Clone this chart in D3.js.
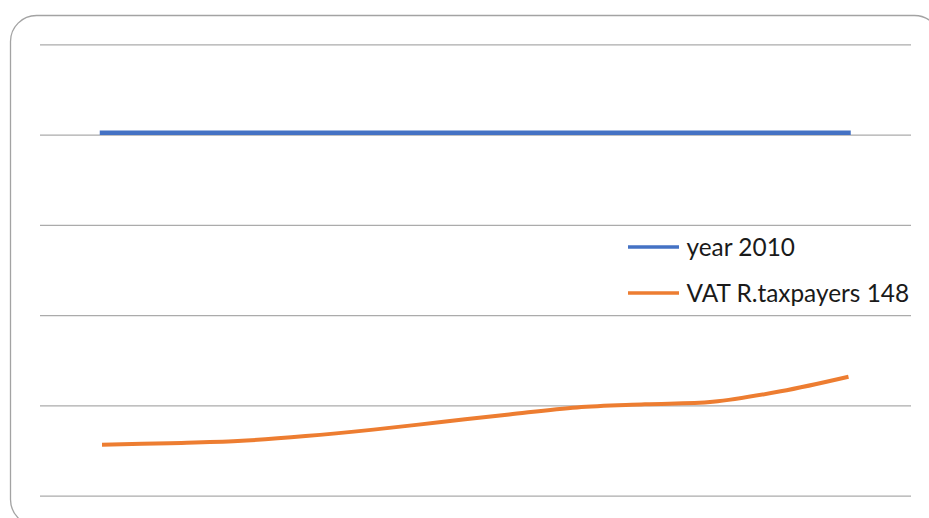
<!DOCTYPE html>
<html>
<head>
<meta charset="utf-8">
<script src="https://cdn.jsdelivr.net/npm/d3@7/dist/d3.min.js"></script>
<style>
  html, body { margin: 0; padding: 0; background: #fff; }
  svg { display: block; }
</style>
</head>
<body>
<svg id="chart" width="929" height="518"></svg>
<script>
// Monthly categories along the horizontal axis (labels are not shown)
const categories = ["Jan", "Feb", "Mar", "Apr", "May", "Jun", "Jul", "Aug", "Sep", "Oct", "Nov", "Dec"];

// Series values
const year2010 = [201, 201, 201, 201, 201, 201, 201, 201, 201, 201, 201, 201];
const vatTaxpayers = [28.2, 29.1, 30.3, 33.0, 36.6, 40.8, 45.0, 48.9, 50.6, 52.0, 57.8, 65.9];

// Value gridline positions
const gridTicks = [0, 50, 100, 150, 200, 250];

// Legend entries
const seriesNames = ["year 2010", "VAT R.taxpayers 148"];
const seriesColors = ["#4472C4", "#ED7D31"];

const svg = d3.select("#chart");

// Rounded chart frame
svg.append("rect")
  .attr("x", 10.5).attr("y", 15.5)
  .attr("width", 930).attr("height", 510)
  .attr("rx", 26).attr("ry", 26)
  .attr("fill", "#fff")
  .attr("stroke", "#a3a3a3")
  .attr("stroke-width", 1.3);

const plot = { left: 40, right: 911, top: 44.3, bottom: 495.7 };

const x = d3.scalePoint().domain(categories).range([102, 848.5]);
const y = d3.scaleLinear().domain([0, 250]).range([plot.bottom, plot.top]);

// Horizontal gridlines
const grid = svg.append("g")
  .attr("transform", `translate(${plot.left},0)`)
  .call(d3.axisLeft(y).tickValues(gridTicks).tickSize(-(plot.right - plot.left)).tickFormat(""));
grid.select(".domain").remove();
grid.selectAll(".tick line").attr("stroke", "#ababab").attr("stroke-width", 1.3);

const line = d3.line()
  .x((d, i) => x(categories[i]))
  .y(d => y(d))
  .curve(d3.curveCatmullRom.alpha(0.5));

svg.append("path")
  .datum(year2010)
  .attr("d", line)
  .attr("fill", "none")
  .attr("stroke", seriesColors[0])
  .attr("stroke-width", 4.5)
  .attr("stroke-linecap", "square");

svg.append("path")
  .datum(vatTaxpayers)
  .attr("d", line)
  .attr("fill", "none")
  .attr("stroke", seriesColors[1])
  .attr("stroke-width", 4);

// Legend
const legend = svg.append("g").attr("transform", "translate(628,247)");
seriesNames.forEach((name, i) => {
  const row = legend.append("g").attr("transform", `translate(0,${i * 46})`);
  row.append("line")
    .attr("x1", 0).attr("x2", 51)
    .attr("y1", 0).attr("y2", 0)
    .attr("stroke", seriesColors[i])
    .attr("stroke-width", 3.5);
  row.append("text")
    .attr("x", 58.5)
    .attr("y", 9)
    .attr("font-family", "Lato, 'Open Sans', sans-serif")
    .attr("font-size", 24.4)
    .attr("fill", "#1a1a1a")
    .text(name);
});
</script>
</body>
</html>
